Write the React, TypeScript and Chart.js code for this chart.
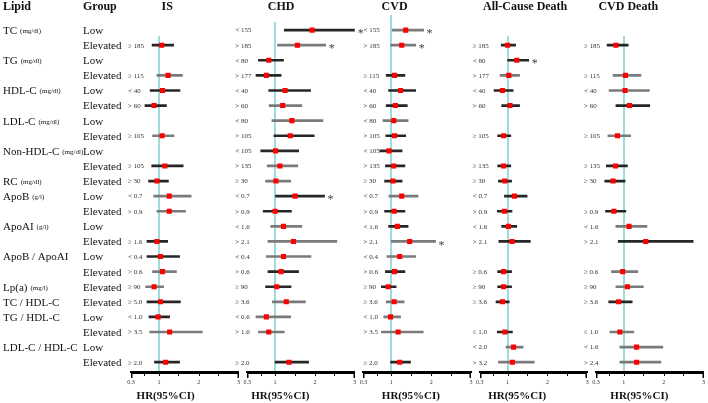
import React, { useEffect, useRef } from "react";
import { Chart, registerables } from "chart.js";
Chart.register(...registerables);

const FONT = "'Liberation Serif', 'Times New Roman', serif";

// ---------- left columns ----------
const lipidNames = ["TC", "", "TG", "", "HDL-C", "", "LDL-C", "", "Non-HDL-C", "", "RC", "ApoB", "", "ApoAI", "", "ApoB / ApoAI", "", "Lp(a)", "TC / HDL-C", "TG / HDL-C", "", "LDL-C / HDL-C", ""];
const lipidUnits = ["(mg/dl)", "", "(mg/dl)", "", "(mg/dl)", "", "(mg/dl)", "", "(mg/dl)", "", "(mg/dl)", "(g/l)", "", "(g/l)", "", "", "", "(mg/l)", "", "", "", "", ""];
const groupNames = ["Low", "Elevated", "Low", "Elevated", "Low", "Elevated", "Low", "Elevated", "Low", "Elevated", "Elevated", "Low", "Elevated", "Low", "Elevated", "Low", "Elevated", "Elevated", "Elevated", "Low", "Elevated", "Low", "Elevated"];
const panelTitles = ["IS", "CHD", "CVD", "All-Cause Death", "CVD Death"];
const tickValues = [0.3, 1, 2, 3];
const axisTitle = "HR(95%CI)";

// ---------- IS ----------
const isRows = [1, 3, 4, 5, 7, 9, 10, 11, 12, 14, 15, 16, 17, 18, 19, 20, 22];
const isCut = ["≥ 185", "≥ 115", "< 40", "> 60", "≥ 105", "≥ 105", "≥ 30", "< 0.7", "> 0.9", "≥ 1.6", "< 0.4", "> 0.6", "≥ 90", "≥ 5.0", "< 1.0", "> 3.5", "≥ 2.0"];
const isHR = [1.07, 1.23, 1.09, 0.88, 1.08, 1.15, 0.95, 1.26, 1.26, 0.95, 1.04, 1.09, 0.88, 1.04, 0.98, 1.27, 1.17];
const isLow = [0.83, 0.95, 0.78, 0.65, 0.84, 0.82, 0.74, 0.87, 0.95, 0.70, 0.70, 0.84, 0.67, 0.70, 0.75, 0.77, 0.89];
const isHigh = [1.37, 1.59, 1.53, 1.19, 1.38, 1.61, 1.24, 1.81, 1.67, 1.22, 1.52, 1.44, 1.12, 1.54, 1.27, 2.09, 1.52];
const isSig = [0, 0, 0, 0, 0, 0, 0, 0, 0, 0, 0, 0, 0, 0, 0, 0, 0];
const isGrey = [0, 1, 0, 0, 1, 0, 0, 1, 1, 0, 0, 1, 1, 0, 0, 1, 0];

// ---------- CHD ----------
const chdRows = [0, 1, 2, 3, 4, 5, 6, 7, 8, 9, 10, 11, 12, 13, 14, 15, 16, 17, 18, 19, 20, 22];
const chdCut = ["< 155", "> 185", "< 80", "> 177", "< 40", "> 60", "< 80", "> 105", "< 105", "> 135", "≥ 30", "< 0.7", "> 0.9", "< 1.6", "> 2.1", "< 0.4", "> 0.6", "≥ 90", "≥ 3.6", "< 0.6", "> 1.6", "≥ 2.0"];
const chdHR = [1.93, 1.56, 0.84, 0.78, 1.25, 1.19, 1.42, 1.38, 1.01, 1.12, 1.02, 1.50, 1.00, 1.21, 1.46, 1.21, 1.15, 1.04, 1.28, 0.78, 0.84, 1.35];
const chdLow = [1.23, 1.06, 0.58, 0.52, 0.84, 0.85, 0.92, 0.97, 0.64, 0.80, 0.76, 1.01, 0.70, 0.89, 0.82, 0.78, 0.82, 0.76, 0.93, 0.52, 0.58, 1.00];
const chdHigh = [3.00, 2.27, 1.21, 1.15, 1.89, 1.67, 2.20, 1.98, 1.59, 1.57, 1.39, 2.24, 1.41, 1.67, 2.55, 1.90, 1.59, 1.40, 1.76, 1.39, 1.23, 1.84];
const chdSig = [1, 1, 0, 0, 0, 0, 0, 0, 0, 0, 0, 1, 0, 0, 0, 0, 0, 0, 0, 0, 0, 0];
const chdGrey = [0, 1, 0, 0, 0, 1, 1, 0, 0, 1, 1, 0, 0, 1, 1, 1, 0, 0, 1, 1, 1, 0];

// ---------- CVD ----------
const cvdRows = [0, 1, 3, 4, 5, 6, 7, 8, 9, 10, 11, 12, 13, 14, 15, 16, 17, 18, 19, 20, 22];
const cvdCut = ["< 155", "> 185", "≥ 115", "< 40", "> 60", "< 80", "> 105", "< 105", "> 135", "≥ 30", "< 0.7", "> 0.9", "< 1.6", "> 2.1", "< 0.4", "> 0.6", "≥ 90", "≥ 3.6", "< 1.0", "> 3.5", "≥ 2.0"];
const cvdHR = [1.36, 1.26, 1.08, 1.23, 1.10, 1.06, 1.08, 0.94, 1.06, 1.04, 1.26, 1.07, 1.15, 1.46, 1.21, 1.08, 0.92, 1.07, 0.98, 1.17, 1.21];
const cvdLow = [1.02, 0.98, 0.87, 0.93, 0.87, 0.79, 0.86, 0.71, 0.85, 0.83, 0.94, 0.83, 0.93, 1.00, 0.89, 0.85, 0.75, 0.87, 0.81, 0.75, 0.98];
const cvdHigh = [1.81, 1.61, 1.34, 1.61, 1.40, 1.42, 1.36, 1.27, 1.34, 1.27, 1.67, 1.34, 1.42, 2.11, 1.61, 1.34, 1.12, 1.32, 1.23, 1.80, 1.48];
const cvdSig = [1, 1, 0, 0, 0, 0, 0, 0, 0, 0, 0, 0, 0, 1, 0, 0, 0, 0, 0, 0, 0];
const cvdGrey = [1, 1, 0, 0, 0, 1, 0, 0, 0, 0, 1, 0, 0, 1, 1, 0, 0, 1, 1, 1, 0];

// ---------- All-Cause Death ----------
const acRows = [1, 2, 3, 4, 5, 7, 9, 10, 11, 12, 13, 14, 16, 17, 18, 20, 21, 22];
const acCut = ["≥ 185", "< 80", "> 177", "< 40", "> 60", "≥ 105", "≥ 135", "≥ 30", "< 0.7", "> 0.9", "< 1.6", "> 2.1", "≥ 0.6", "≥ 90", "≥ 3.6", "≤ 1.0", "< 2.0", "> 3.2"];
const acHR = [1.00, 1.23, 1.03, 0.87, 1.06, 0.90, 0.90, 0.93, 1.17, 0.92, 1.02, 1.11, 0.90, 0.90, 0.87, 0.93, 1.15, 1.12];
const acLow = [0.84, 1.00, 0.81, 0.66, 0.85, 0.75, 0.75, 0.77, 0.92, 0.74, 0.85, 0.78, 0.75, 0.75, 0.71, 0.74, 0.96, 0.77];
const acHigh = [1.20, 1.53, 1.30, 1.14, 1.30, 1.08, 1.08, 1.10, 1.49, 1.11, 1.23, 1.57, 1.10, 1.10, 1.04, 1.12, 1.39, 1.67];
const acSig = [0, 1, 0, 0, 0, 0, 0, 0, 0, 0, 0, 0, 0, 0, 0, 0, 0, 0];
const acGrey = [0, 0, 1, 0, 0, 0, 0, 0, 0, 0, 0, 0, 0, 0, 0, 0, 1, 1];

// ---------- CVD Death ----------
const cvddRows = [1, 3, 4, 5, 7, 9, 10, 12, 13, 14, 16, 17, 18, 20, 21, 22];
const cvddCut = ["≥ 185", "≥ 115", "< 40", "> 60", "≥ 105", "≥ 135", "≥ 30", "≥ 0.9", "< 1.6", "> 2.1", "≥ 0.6", "≥ 90", "≥ 3.6", "≤ 1.0", "< 1.6", "> 2.4"];
const cvddHR = [0.80, 1.04, 1.03, 1.14, 0.84, 0.79, 0.73, 0.75, 1.13, 1.55, 0.97, 1.09, 0.87, 0.90, 1.32, 1.32];
const cvddLow = [0.58, 0.73, 0.63, 0.80, 0.60, 0.56, 0.52, 0.54, 0.80, 0.86, 0.69, 0.80, 0.62, 0.65, 0.90, 0.90];
const cvddHigh = [1.11, 1.43, 1.64, 1.65, 1.17, 1.09, 1.03, 1.05, 1.58, 2.74, 1.35, 1.49, 1.21, 1.25, 1.98, 1.93];
const cvddSig = [0, 0, 0, 0, 0, 0, 0, 0, 0, 0, 0, 0, 0, 0, 0, 0];
const cvddGrey = [0, 1, 1, 0, 1, 0, 0, 0, 1, 0, 1, 1, 0, 1, 1, 1];

// ---------- styling / layout ----------
const TEAL = "#7fcfd2";
const BLACK_CI = "#262626";
const GREY_CI = "#7a7a7a";
const RED = "#ff0000";
const AXIS_WEIGHT = 108;
const GAP_WEIGHT = 8.75;
const Y_MIN = -1;
const Y_MAX = 22.65;
const cutDx = [-3, -12, 0, -7, -12];            // px offset of cut-point labels from axis start
const headerAt = [1.21, 1.15, 1.08, 1.44, 1.11]; // header centre (in HR units)
const titleAt = [1.17, 1.13, 1.49, 1.24, 1.39];  // axis title centre (in HR units)
const tealTopDy = [9, 8, 15, 9, 9];

const panels = [
  { rows: isRows, cut: isCut, hr: isHR, lo: isLow, hi: isHigh, sig: isSig, grey: isGrey },
  { rows: chdRows, cut: chdCut, hr: chdHR, lo: chdLow, hi: chdHigh, sig: chdSig, grey: chdGrey },
  { rows: cvdRows, cut: cvdCut, hr: cvdHR, lo: cvdLow, hi: cvdHigh, sig: cvdSig, grey: cvdGrey },
  { rows: acRows, cut: acCut, hr: acHR, lo: acLow, hi: acHigh, sig: acSig, grey: acGrey },
  { rows: cvddRows, cut: cvddCut, hr: cvddHR, lo: cvddLow, hi: cvddHigh, sig: cvddSig, grey: cvddGrey },
];

const overlay = {
  id: "forestOverlay",
  beforeDatasetsDraw(chart: any) {
    const ctx = chart.ctx;
    const ys = chart.scales.y;
    const bottom = chart.chartArea.bottom;
    ctx.save();
    ctx.fillStyle = TEAL;
    panels.forEach((p, i) => {
      const sx = chart.scales["x" + i];
      const x1 = Math.round(sx.getPixelForValue(1));
      const top = Math.round(ys.getPixelForValue(p.rows[0]) - tealTopDy[i]);
      ctx.fillRect(x1 - 0.75, top, 1.5, bottom - top);
    });
    ctx.restore();
  },
  afterDraw(chart: any) {
    const ctx = chart.ctx;
    const ys = chart.scales.y;
    const bottom = Math.round(chart.chartArea.bottom);
    ctx.save();
    ctx.fillStyle = "#000";
    panels.forEach((p, i) => {
      const sx = chart.scales["x" + i];
      const a = Math.round(sx.getPixelForValue(tickValues[0]));
      const b = Math.round(sx.getPixelForValue(tickValues[tickValues.length - 1]));
      ctx.fillRect(a, bottom, b - a, 2);
      ctx.fillRect(a, bottom, 1.5, 6);
      ctx.fillRect(b - 1.5, bottom, 1.5, 6);
      tickValues.slice(1, -1).forEach((v) => {
        const x = Math.round(sx.getPixelForValue(v));
        ctx.fillRect(x, bottom + 2, 1, 2);
      });
    });
    ctx.fillStyle = "#111";
    ctx.textBaseline = "middle";
    ctx.font = `bold 12px ${FONT}`;
    ctx.textAlign = "left";
    ctx.fillText("Lipid", 3, 7);
    ctx.fillText("Group", 83, 7);
    for (let r = 0; r < groupNames.length; r++) {
      const y = ys.getPixelForValue(r) + 1;
      if (lipidNames[r]) {
        ctx.font = `11px ${FONT}`;
        ctx.fillText(lipidNames[r], 3, y);
        const w = ctx.measureText(lipidNames[r]).width;
        if (lipidUnits[r]) {
          ctx.font = `7px ${FONT}`;
          ctx.fillText(lipidUnits[r], 3 + w + 3, y);
        }
      }
      ctx.font = `11px ${FONT}`;
      ctx.fillText(groupNames[r], 83, y);
    }
    panels.forEach((p, i) => {
      const sx = chart.scales["x" + i];
      ctx.font = `bold 12px ${FONT}`;
      ctx.textAlign = "center";
      ctx.fillStyle = "#111";
      ctx.fillText(panelTitles[i], sx.getPixelForValue(headerAt[i]), 7);
      ctx.font = `bold 11px ${FONT}`;
      ctx.fillText(axisTitle, sx.getPixelForValue(titleAt[i]), 396);
      p.rows.forEach((r, k) => {
        const y = ys.getPixelForValue(r);
        ctx.font = `7px ${FONT}`;
        ctx.textAlign = "left";
        ctx.fillStyle = "#333";
        ctx.fillText(p.cut[k], sx.left + cutDx[i], y + 0.5);
        if (p.sig[k]) {
          ctx.font = `12px ${FONT}`;
          ctx.textAlign = "center";
          ctx.fillStyle = "#444";
          ctx.fillText("*", sx.getPixelForValue(p.hi[k]) + 6, y + 4);
        }
      });
    });
    ctx.restore();
  },
};

export default function App() {
  const ref = useRef<HTMLCanvasElement>(null);
  useEffect(() => {
    const datasets: any[] = [];
    const scales: any = {
      y: { type: "linear", reverse: true, min: Y_MIN, max: Y_MAX, display: false, offset: false },
    };
    panels.forEach((p, i) => {
      const id = "x" + i;
      scales[id] = {
        type: "linear",
        position: "bottom",
        stack: "panels",
        stackWeight: AXIS_WEIGHT,
        min: tickValues[0],
        max: tickValues[tickValues.length - 1],
        offset: false,
        grid: { display: true, drawOnChartArea: false, tickLength: 4, tickColor: "#000" },
        border: { display: true, color: "#000", width: 2 },
        afterBuildTicks: (s: any) => {
          s.ticks = tickValues.map((v) => ({ value: v }));
        },
        afterFit: (s: any) => {
          s.height = 20;
        },
        ticks: {
          autoSkip: false,
          maxRotation: 0,
          padding: 3,
          color: "#333",
          font: { size: 6, family: FONT },
          callback: (v: any) => String(v),
        },
      };
      if (i < panels.length - 1) {
        scales["gap" + i] = {
          type: "linear",
          position: "bottom",
          stack: "panels",
          stackWeight: GAP_WEIGHT,
          display: false,
          afterFit: (s: any) => {
            s.height = 20;
          },
        };
      }
      // axis baseline drawn as a line dataset along the bottom of the plot
      datasets.push({
        type: "line",
        xAxisID: id,
        yAxisID: "y",
        data: [
          { x: tickValues[0], y: Y_MAX },
          { x: tickValues[tickValues.length - 1], y: Y_MAX },
        ],
        borderColor: "#000",
        borderWidth: 2,
        pointRadius: 0,
        fill: false,
        clip: false,
        order: 0,
      });
      datasets.push({
        type: "bar",
        indexAxis: "y",
        xAxisID: id,
        yAxisID: "y",
        data: p.rows.map((r, k) => ({ y: r, x: [p.lo[k], p.hi[k]] })),
        backgroundColor: p.grey.map((g) => (g ? GREY_CI : BLACK_CI)),
        barThickness: 2,
        grouped: false,
        borderWidth: 0,
        order: 2,
      });
      datasets.push({
        type: "scatter",
        xAxisID: id,
        yAxisID: "y",
        data: p.rows.map((r, k) => ({ x: p.hr[k], y: r })),
        pointStyle: "rect",
        pointRadius: 3.6,
        backgroundColor: RED,
        borderWidth: 0,
        order: 1,
      });
    });
    const chart = new Chart(ref.current as HTMLCanvasElement, {
      type: "bar",
      data: { datasets },
      options: {
        responsive: false,
        animation: false,
        devicePixelRatio: 1,
        events: [],
        layout: { padding: { left: 131, right: 2, top: 15, bottom: 11 } },
        plugins: { legend: { display: false }, tooltip: { enabled: false } },
        scales,
      } as any,
      plugins: [overlay],
    } as any);
    return () => chart.destroy();
  }, []);
  return (
    <div style={{ position: "fixed", left: 0, top: 0, width: 708, height: 403, background: "#fff" }}>
      <canvas ref={ref} width={708} height={403} style={{ width: 708, height: 403, display: "block" }} />
    </div>
  );
}
